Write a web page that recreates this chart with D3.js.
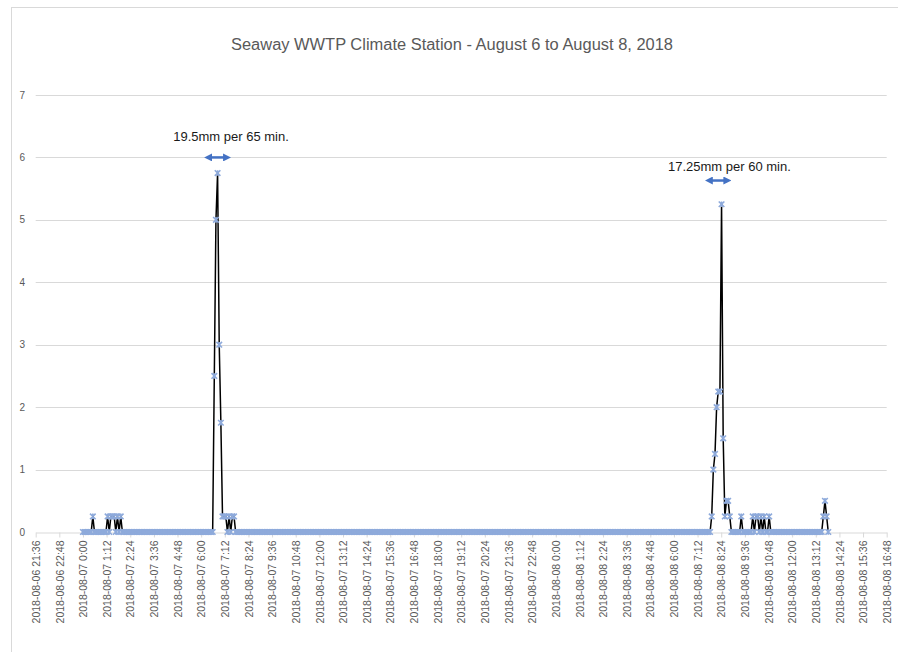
<!DOCTYPE html>
<html>
<head>
<meta charset="utf-8">
<script src="https://cdn.jsdelivr.net/npm/d3@7"></script>
<style>
  html, body { margin: 0; padding: 0; background: #ffffff; }
  svg { display: block; }
</style>
</head>
<body>
<svg id="chart" width="898" height="652"></svg>
<script>
// ---------------- DATA ----------------
const chartTitle = "Seaway WWTP Climate Station - August 6 to August 8, 2018";

// first reading and reading interval (5-minute tipping-bucket rainfall, mm)
const seriesStart = "2018-08-07 0:00";
const readingMinutes = 5;

// rainfall per 5-minute reading, one row per hour (12 readings)
const rainfall = [
  0,0,0,0,0,0,0.25,0,0,0,0,0,                 // 07 00:00
  0,0,0,0.25,0,0.25,0.25,0.25,0,0.25,0,0.25,  // 01:00
  0,0,0,0,0,0,0,0,0,0,0,0,                    // 02:00
  0,0,0,0,0,0,0,0,0,0,0,0,                    // 03:00
  0,0,0,0,0,0,0,0,0,0,0,0,                    // 04:00
  0,0,0,0,0,0,0,0,0,0,0,0,                    // 05:00
  0,0,0,0,0,0,0,0,2.5,5,5.75,3,               // 06:00
  1.75,0.25,0.25,0.25,0,0.25,0,0.25,0.25,0,0,0, // 07:00
  0,0,0,0,0,0,0,0,0,0,0,0,                    // 08:00
  0,0,0,0,0,0,0,0,0,0,0,0,                    // 09:00
  0,0,0,0,0,0,0,0,0,0,0,0,                    // 10:00
  0,0,0,0,0,0,0,0,0,0,0,0,                    // 11:00
  0,0,0,0,0,0,0,0,0,0,0,0,                    // 12:00
  0,0,0,0,0,0,0,0,0,0,0,0,                    // 13:00
  0,0,0,0,0,0,0,0,0,0,0,0,                    // 14:00
  0,0,0,0,0,0,0,0,0,0,0,0,                    // 15:00
  0,0,0,0,0,0,0,0,0,0,0,0,                    // 16:00
  0,0,0,0,0,0,0,0,0,0,0,0,                    // 17:00
  0,0,0,0,0,0,0,0,0,0,0,0,                    // 18:00
  0,0,0,0,0,0,0,0,0,0,0,0,                    // 19:00
  0,0,0,0,0,0,0,0,0,0,0,0,                    // 20:00
  0,0,0,0,0,0,0,0,0,0,0,0,                    // 21:00
  0,0,0,0,0,0,0,0,0,0,0,0,                    // 22:00
  0,0,0,0,0,0,0,0,0,0,0,0,                    // 23:00
  0,0,0,0,0,0,0,0,0,0,0,0,                    // 08 00:00
  0,0,0,0,0,0,0,0,0,0,0,0,                    // 01:00
  0,0,0,0,0,0,0,0,0,0,0,0,                    // 02:00
  0,0,0,0,0,0,0,0,0,0,0,0,                    // 03:00
  0,0,0,0,0,0,0,0,0,0,0,0,                    // 04:00
  0,0,0,0,0,0,0,0,0,0,0,0,                    // 05:00
  0,0,0,0,0,0,0,0,0,0,0,0,                    // 06:00
  0,0,0,0,0,0,0,0,0,0,0,0.25,                 // 07:00
  1,1.25,2,2.25,2.25,5.25,1.5,0.25,0.5,0.5,0.25,0, // 08:00
  0,0,0,0,0,0.25,0,0,0,0,0,0,                 // 09:00
  0.25,0,0.25,0.25,0,0.25,0,0.25,0,0,0.25,0,  // 10:00
  0,0,0,0,0,0,0,0,0,0,0,0,                    // 11:00
  0,0,0,0,0,0,0,0,0,0,0,0,                    // 12:00
  0,0,0,0,0,0,0,0.25,0.5,0.25,0               // 13:00
];

const yTicks = [0, 1, 2, 3, 4, 5, 6, 7];

const xTickLabels = [
  "2018-08-06 21:36","2018-08-06 22:48",
  "2018-08-07 0:00","2018-08-07 1:12","2018-08-07 2:24","2018-08-07 3:36","2018-08-07 4:48",
  "2018-08-07 6:00","2018-08-07 7:12","2018-08-07 8:24","2018-08-07 9:36","2018-08-07 10:48",
  "2018-08-07 12:00","2018-08-07 13:12","2018-08-07 14:24","2018-08-07 15:36","2018-08-07 16:48",
  "2018-08-07 18:00","2018-08-07 19:12","2018-08-07 20:24","2018-08-07 21:36","2018-08-07 22:48",
  "2018-08-08 0:00","2018-08-08 1:12","2018-08-08 2:24","2018-08-08 3:36","2018-08-08 4:48",
  "2018-08-08 6:00","2018-08-08 7:12","2018-08-08 8:24","2018-08-08 9:36","2018-08-08 10:48",
  "2018-08-08 12:00","2018-08-08 13:12","2018-08-08 14:24","2018-08-08 15:36","2018-08-08 16:48"
];

// annotation callouts: label, arrow start/end time, arrow level, label level
const noteLabels = ["19.5mm per 65 min.", "17.25mm per 60 min."];
const noteArrowFrom = ["2018-08-07 6:09", "2018-08-08 7:34"];
const noteArrowTo   = ["2018-08-07 7:31", "2018-08-08 8:55"];
const noteArrowLevel = [6.0, 5.63];
const noteTextCenter = ["2018-08-07 7:31", "2018-08-08 8:49"];
const noteTextLevel = [6.26, 5.78];

// ---------------- CHART ----------------
const parse = d3.utcParse("%Y-%m-%d %H:%M");
const svg = d3.select("#chart");

// chart frame
svg.append("rect")
  .attr("x", 11.5).attr("y", 7.5)
  .attr("width", 960).attr("height", 700)
  .attr("fill", "#ffffff").attr("stroke", "#d9d9d9").attr("stroke-width", 1);

const tickDates = xTickLabels.map(parse);
const x = d3.scaleUtc()
  .domain([tickDates[0], tickDates[tickDates.length - 1]])
  .range([35.7, 886.7]);
const y = d3.scaleLinear().domain([0, 7]).range([532, 95]);

const t0 = parse(seriesStart);
const series = rainfall.map((v, i) => ({
  t: new Date(t0.getTime() + i * readingMinutes * 60000),
  v: v
}));

// title
svg.append("text")
  .attr("x", 452).attr("y", 50)
  .attr("text-anchor", "middle")
  .attr("font-family", "'Liberation Sans', Arial, sans-serif")
  .attr("font-size", 16)
  .attr("fill", "#595959")
  .attr("textLength", 442)
  .attr("lengthAdjust", "spacingAndGlyphs")
  .text(chartTitle);

// gridlines
svg.append("g")
  .selectAll("line")
  .data(yTicks.filter(d => d > 0))
  .join("line")
  .attr("x1", x.range()[0]).attr("x2", x.range()[1])
  .attr("y1", d => Math.round(y(d)) + 0.5).attr("y2", d => Math.round(y(d)) + 0.5)
  .attr("stroke", "#d9d9d9").attr("stroke-width", 1);

// y labels
svg.append("g")
  .selectAll("text")
  .data(yTicks)
  .join("text")
  .attr("x", 25).attr("y", d => y(d))
  .attr("dy", "0.35em")
  .attr("text-anchor", "end")
  .attr("font-family", "'Liberation Sans', Arial, sans-serif")
  .attr("font-size", 10)
  .attr("fill", "#595959")
  .text(d => d);

// x axis
const xAxis = d3.axisBottom(x)
  .tickValues(tickDates)
  .tickFormat((d, i) => xTickLabels[i])
  .tickSizeInner(5)
  .tickSizeOuter(0);

const gx = svg.append("g")
  .attr("transform", "translate(0,532.5)")
  .call(xAxis);
gx.select(".domain").attr("stroke", "#d9d9d9");
gx.selectAll(".tick line").attr("stroke", "#d9d9d9");
gx.selectAll(".tick text")
  .attr("transform", "rotate(-90)")
  .attr("x", -8).attr("y", 0).attr("dy", "0.35em")
  .attr("text-anchor", "end")
  .attr("font-family", "'Liberation Sans', Arial, sans-serif")
  .attr("font-size", 10.5)
  .attr("fill", "#595959");

// line
const line = d3.line().x(d => x(d.t)).y(d => y(d.v));
svg.append("path")
  .datum(series)
  .attr("d", line)
  .attr("fill", "none")
  .attr("stroke", "#000000")
  .attr("stroke-width", 1.5)
  .attr("stroke-linejoin", "round");

// star markers
svg.append("g")
  .selectAll("path")
  .data(series)
  .join("path")
  .attr("transform", d => `translate(${x(d.t)},${y(d.v)})`)
  .attr("d", "M-2.8,-2.8L2.8,2.8M-2.8,2.8L2.8,-2.8M0,-2.8L0,2.8")
  .attr("fill", "none")
  .attr("stroke", "#8eaadb")
  .attr("stroke-width", 1.6);

// annotations
const defs = svg.append("defs");
defs.append("marker")
  .attr("id", "ahead")
  .attr("viewBox", "0 0 10 10")
  .attr("refX", 5).attr("refY", 5)
  .attr("markerWidth", 3.2).attr("markerHeight", 3.2)
  .attr("orient", "auto-start-reverse")
  .attr("markerUnits", "strokeWidth")
  .append("path")
  .attr("d", "M0,0L10,5L0,10Z")
  .attr("fill", "#4472c4");

noteLabels.forEach((lab, i) => {
  const xa = x(parse(noteArrowFrom[i])), xb = x(parse(noteArrowTo[i]));
  const ya = y(noteArrowLevel[i]);
  svg.append("line")
    .attr("x1", xa + 4).attr("x2", xb - 4)
    .attr("y1", ya).attr("y2", ya)
    .attr("stroke", "#4472c4").attr("stroke-width", 2.5)
    .attr("marker-start", "url(#ahead)")
    .attr("marker-end", "url(#ahead)");
  svg.append("text")
    .attr("x", x(parse(noteTextCenter[i])))
    .attr("y", y(noteTextLevel[i]))
    .attr("text-anchor", "middle")
    .attr("font-family", "'Liberation Sans', Arial, sans-serif")
    .attr("font-size", 13)
    .attr("fill", "#1a1a1a")
    .text(lab);
});
</script>
</body>
</html>
